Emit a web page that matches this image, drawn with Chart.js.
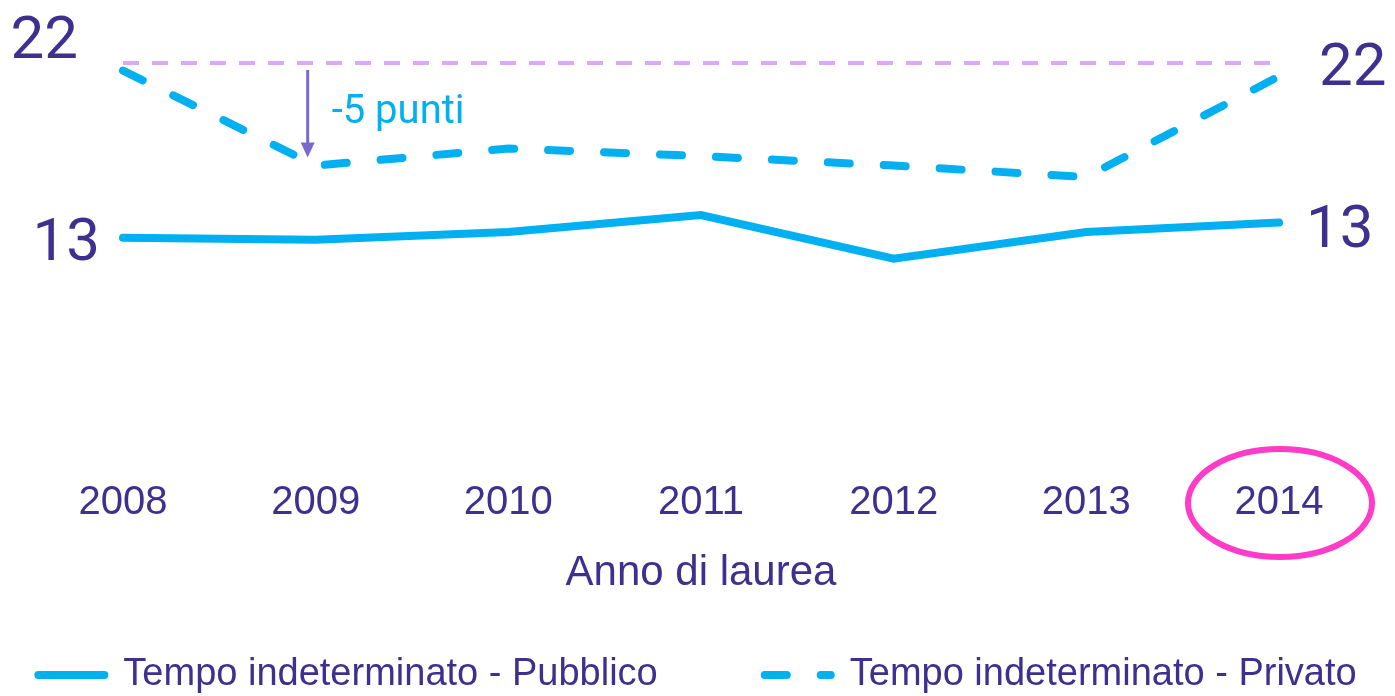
<!DOCTYPE html>
<html>
<head>
<meta charset="utf-8">
<script src="https://cdn.jsdelivr.net/npm/chart.js@4.4.1/dist/chart.umd.min.js"></script>
<style>
html,body{margin:0;padding:0;background:#ffffff;}
#wrap{width:1395px;height:696px;position:relative;}
</style>
</head>
<body>
<div id="wrap"><canvas id="c"></canvas></div>
<script>
// ---- data ----
const years = ['2008', '2009', '2010', '2011', '2012', '2013', '2014'];
const pubblico = [12.8, 12.7, 13.1, 14.0, 11.7, 13.1, 13.6];
const privato = [21.6, 16.6, 17.5, 17.1, 16.6, 16.0, 21.3];
const riferimento = [22, 22, 22, 22, 22, 22, 22];
const seriesLabels = ['Tempo indeterminato - Pubblico', 'Tempo indeterminato - Privato'];
const axisTitle = 'Anno di laurea';
const leftLabels = ['22', '13'];
const rightLabels = ['22', '13'];
const noteText = '-5 punti';

// ---- style ----
const CYAN = '#00B0F0', PURPLE = '#3F2F8F', LILAC = '#DDA8F5', ARROW = '#7B68CC', PINK = '#FF3CC8';
const FONT = "'Liberation Sans', Arial, sans-serif";
const NUMFONT = "Roboto, 'Liberation Sans', sans-serif";

const annot = {
  id: 'annot',
  afterDraw(chart) {
    const {ctx, scales: {x, y}} = chart;
    ctx.save();
    const x0 = x.getPixelForValue(0), x1 = x.getPixelForValue(1), x6 = x.getPixelForValue(6);
    ctx.fillStyle = PURPLE;
    ctx.font = '60px ' + NUMFONT;
    ctx.textBaseline = 'alphabetic';
    ctx.textAlign = 'right';
    ctx.fillText(leftLabels[0], x0 - 45, y.getPixelForValue(riferimento[0]) - 5);
    ctx.fillText(leftLabels[1], x0 - 23, y.getPixelForValue(pubblico[0]) + 22);
    ctx.textAlign = 'left';
    ctx.fillText(rightLabels[0], x6 + 40, y.getPixelForValue(privato[6]) + 9);
    ctx.fillText(rightLabels[1], x6 + 27, y.getPixelForValue(pubblico[6]) + 24);

    // arrow
    const ax = x1 - 8;
    const ay0 = y.getPixelForValue(riferimento[1]) + 7;
    const ay1 = y.getPixelForValue(privato[1]) - 8;
    ctx.strokeStyle = ARROW; ctx.lineWidth = 3;
    ctx.beginPath(); ctx.moveTo(ax, ay0); ctx.lineTo(ax, ay1 - 12); ctx.stroke();
    ctx.fillStyle = ARROW;
    ctx.beginPath(); ctx.moveTo(ax - 7, ay1 - 15); ctx.lineTo(ax + 7, ay1 - 15); ctx.lineTo(ax, ay1); ctx.closePath(); ctx.fill();

    ctx.font = '40px ' + NUMFONT;
    ctx.fillStyle = CYAN;
    ctx.textAlign = 'left';
    ctx.fillText(noteText, x1 + 16, y.getPixelForValue(riferimento[1]) + 60);

    // highlight ellipse around last year
    ctx.strokeStyle = PINK; ctx.lineWidth = 6;
    ctx.beginPath();
    ctx.ellipse(x6 + 1, x.top + 22, 92, 54, 0, 0, Math.PI * 2);
    ctx.stroke();
    ctx.restore();
  }
};

new Chart(document.getElementById('c'), {
  type: 'line',
  data: {
    labels: years,
    datasets: [
      {label: seriesLabels[0], data: pubblico, borderColor: CYAN, backgroundColor: CYAN, borderWidth: 8,
       borderCapStyle: 'round', borderJoinStyle: 'miter', pointRadius: 0, tension: 0, clip: false},
      {label: seriesLabels[1], data: privato, borderColor: CYAN, backgroundColor: CYAN, borderWidth: 8,
       borderDash: [22, 34], borderCapStyle: 'round', pointRadius: 0, tension: 0, clip: false},
      {label: 'rif', data: riferimento, borderColor: LILAC, backgroundColor: LILAC, borderWidth: 4,
       borderDash: [16, 13], borderCapStyle: 'butt', pointRadius: 0, tension: 0, clip: false}
    ]
  },
  options: {
    responsive: true,
    maintainAspectRatio: false,
    animation: false,
    events: [],
    layout: {padding: {top: 25, left: -70, right: -70, bottom: -8}},
    scales: {
      x: {
        type: 'category', offset: false,
        grid: {display: false, drawTicks: false}, border: {display: false},
        ticks: {color: PURPLE, font: {family: FONT, size: 40, lineHeight: 1.1}, padding: 0, maxRotation: 0, autoSkip: false},
        title: {display: true, text: axisTitle, color: PURPLE, font: {family: FONT, size: 42, lineHeight: 1.2},
                padding: {top: 23.2, bottom: -49.6}}
      },
      y: {
        position: 'left', min: 0, max: 24,
        grid: {display: false, drawTicks: false}, border: {display: false}, ticks: {display: false},
        afterFit(s) { s.width = 193; }
      },
      y2: {
        position: 'right', min: 0, max: 24,
        grid: {display: false, drawTicks: false}, border: {display: false}, ticks: {display: false},
        afterFit(s) { s.width = 186; }
      }
    },
    plugins: {
      tooltip: {enabled: false},
      legend: {
        position: 'bottom',
        labels: {
          usePointStyle: true, pointStyle: 'line', pointStyleWidth: 66,
          font: {family: FONT, size: 38}, color: PURPLE, padding: 107,
          generateLabels(chart) {
            return chart.data.datasets.slice(0, 2).map((ds, i) => ({
              text: ds.label, fillStyle: ds.borderColor, strokeStyle: ds.borderColor,
              lineWidth: ds.borderWidth, lineCap: 'round', lineDash: ds.borderDash || [],
              lineDashOffset: 0, pointStyle: 'line', hidden: false, datasetIndex: i, fontColor: PURPLE
            }));
          }
        }
      }
    }
  },
  plugins: [annot]
});
</script>
</body>
</html>
